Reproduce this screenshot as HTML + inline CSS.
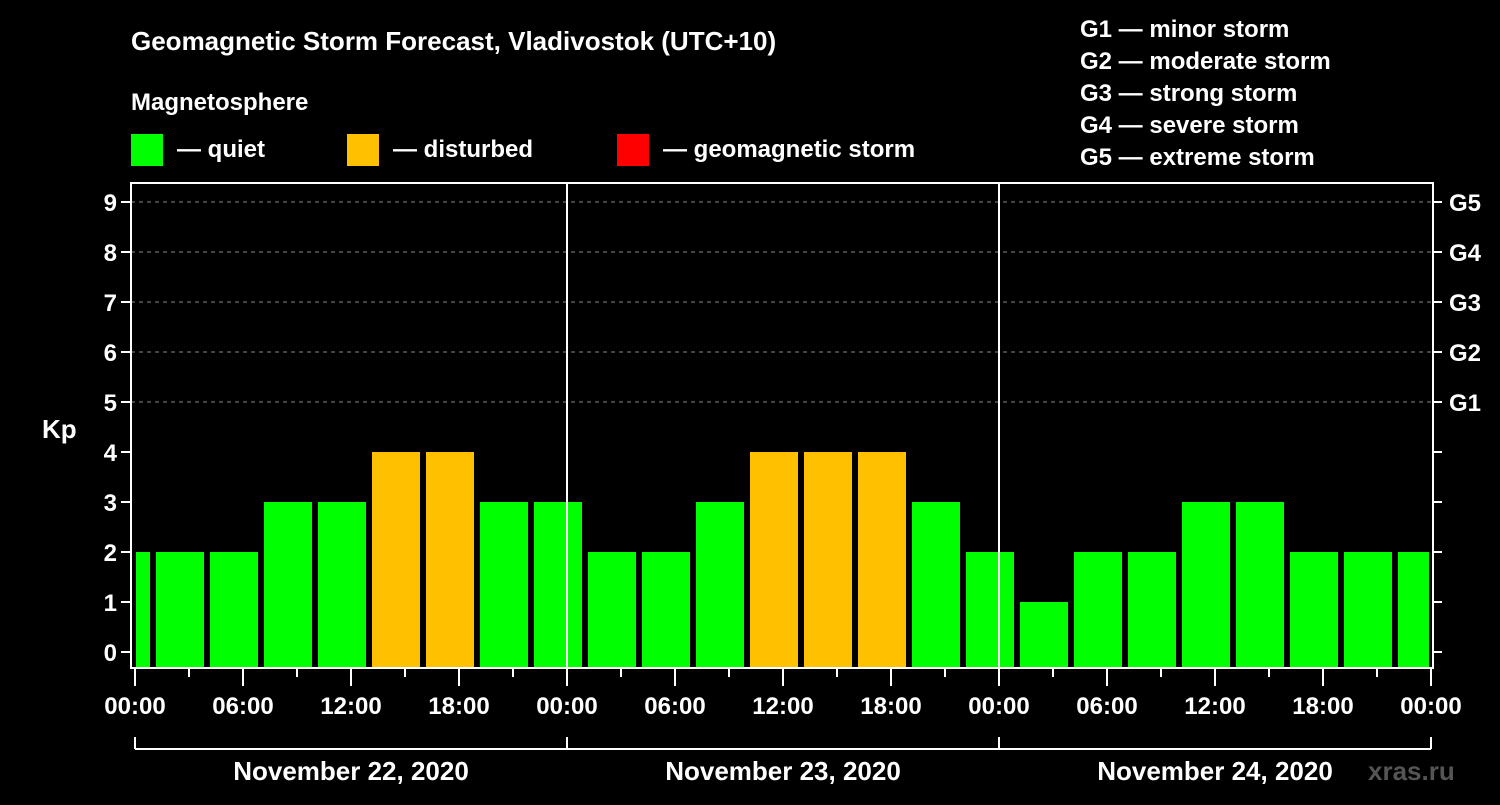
<!DOCTYPE html>
<html><head><meta charset="utf-8"><style>
body{margin:0;background:#000;width:1500px;height:800px;overflow:hidden}
text{font-family:"Liberation Sans",Arial,sans-serif;font-weight:bold;fill:#fff}
</style></head><body>
<svg id="chart" width="1500" height="800" xmlns="http://www.w3.org/2000/svg">
<text x="131" y="50" font-size="26">Geomagnetic Storm Forecast, Vladivostok (UTC+10)</text>
<text x="131" y="110" font-size="24">Magnetosphere</text>
<g>
<rect x="131" y="134" width="32" height="32" fill="#00ff00"/>
<text x="177" y="157" font-size="24">— quiet</text>
<rect x="347" y="134" width="32" height="32" fill="#ffc000"/>
<text x="393" y="157" font-size="24">— disturbed</text>
<rect x="617" y="134" width="32" height="32" fill="#ff0000"/>
<text x="663" y="157" font-size="24">— geomagnetic storm</text>
</g>
<g font-size="24">
<text x="1080" y="37">G1 — minor storm</text>
<text x="1080" y="69">G2 — moderate storm</text>
<text x="1080" y="101">G3 — strong storm</text>
<text x="1080" y="133">G4 — severe storm</text>
<text x="1080" y="165">G5 — extreme storm</text>
</g>
<text x="42" y="438" font-size="26">Kp</text>
<text x="1368" y="780" font-size="26" style="fill:#555">xras.ru</text>
<g id="grid"></g><g id="bars"></g><g id="axes"></g>
</svg>
<script>
const kpValues=[2,2,2,3,3,4,4,3,3,2,2,3,4,4,4,3,2,1,2,2,3,3,2,2,2];
const yTicks=[0,1,2,3,4,5,6,7,8,9];
const gLabels=["G1","G2","G3","G4","G5"];
const xTickLabels=["00:00","06:00","12:00","18:00","00:00","06:00","12:00","18:00","00:00","06:00","12:00","18:00","00:00"];
const dayLabels=["November 22, 2020","November 23, 2020","November 24, 2020"];
const NS="http://www.w3.org/2000/svg";
const X0=135,PXH=18,L=131,R=1433,T=183,B=668;
const xs=h=>X0+h*PXH;
const ys=v=>652-v*50;
function mk(tag,attrs,parent,txt){const e=document.createElementNS(NS,tag);for(const k in attrs)e.setAttribute(k,attrs[k]);if(txt!==undefined)e.textContent=txt;document.getElementById(parent).appendChild(e);return e;}
// grid dashed at 5..9
yTicks.filter(v=>v>=5).forEach(v=>{
 const e=mk('line',{x1:L,x2:R,y1:ys(v),y2:ys(v),stroke:'#888','stroke-dasharray':'4,4','stroke-width':1},'grid');
 
 
});
// bars
kpValues.forEach((v,i)=>{
 let a=xs(3*i-2)+3,b=xs(3*i+1)-3;
 a=Math.max(a,L+5);b=Math.min(b,R-4);
 const col=v>=5?'#ff0000':(v>=4?'#ffc000':'#00ff00');
 const e=mk('rect',{x:a,y:ys(v),width:b-a,height:B-ys(v),fill:col},'bars');
 
 
});
// day separators
[1,2].forEach(d=>{
 const e=mk('line',{x1:xs(24*d),x2:xs(24*d),y1:T,y2:B,stroke:'#fff','stroke-width':2},'axes');
 
 
});
// frame
const f=mk('rect',{x:L,y:T,width:R-L,height:B-T,fill:'none',stroke:'#fff','stroke-width':2},'axes');


// y ticks
yTicks.forEach(v=>{
 mk('line',{x1:L-10,x2:L,y1:ys(v),y2:ys(v),stroke:'#fff','stroke-width':2},'axes');
 mk('line',{x1:R,x2:R+9,y1:ys(v),y2:ys(v),stroke:'#fff','stroke-width':2},'axes');
 const t=mk('text',{x:L-14,y:ys(v)+9,'text-anchor':'end','font-size':24},'axes',String(v));
 
 
});
gLabels.forEach((g,i)=>{
 const t=mk('text',{x:1449,y:ys(5+i)+9,'font-size':24},'axes',g);
 
 
});
// x ticks
for(let h=0;h<=72;h+=3){
 const major=h%6===0;
 mk('line',{x1:xs(h),x2:xs(h),y1:B,y2:major?686:677,stroke:'#fff','stroke-width':2},'axes');
}
xTickLabels.forEach((s,i)=>{
 const t=mk('text',{x:xs(6*i),y:714,'text-anchor':'middle','font-size':24},'axes',s);
 
 
});
// day bracket
mk('line',{x1:xs(0),x2:xs(72),y1:749,y2:749,stroke:'#fff','stroke-width':2},'axes');
for(let d=0;d<=3;d++)mk('line',{x1:xs(24*d),x2:xs(24*d),y1:737,y2:749,stroke:'#fff','stroke-width':2},'axes');
dayLabels.forEach((s,i)=>{
 const t=mk('text',{x:xs(24*i+12),y:780,'text-anchor':'middle','font-size':26},'axes',s);
 
 
});
</script>
</body></html>
